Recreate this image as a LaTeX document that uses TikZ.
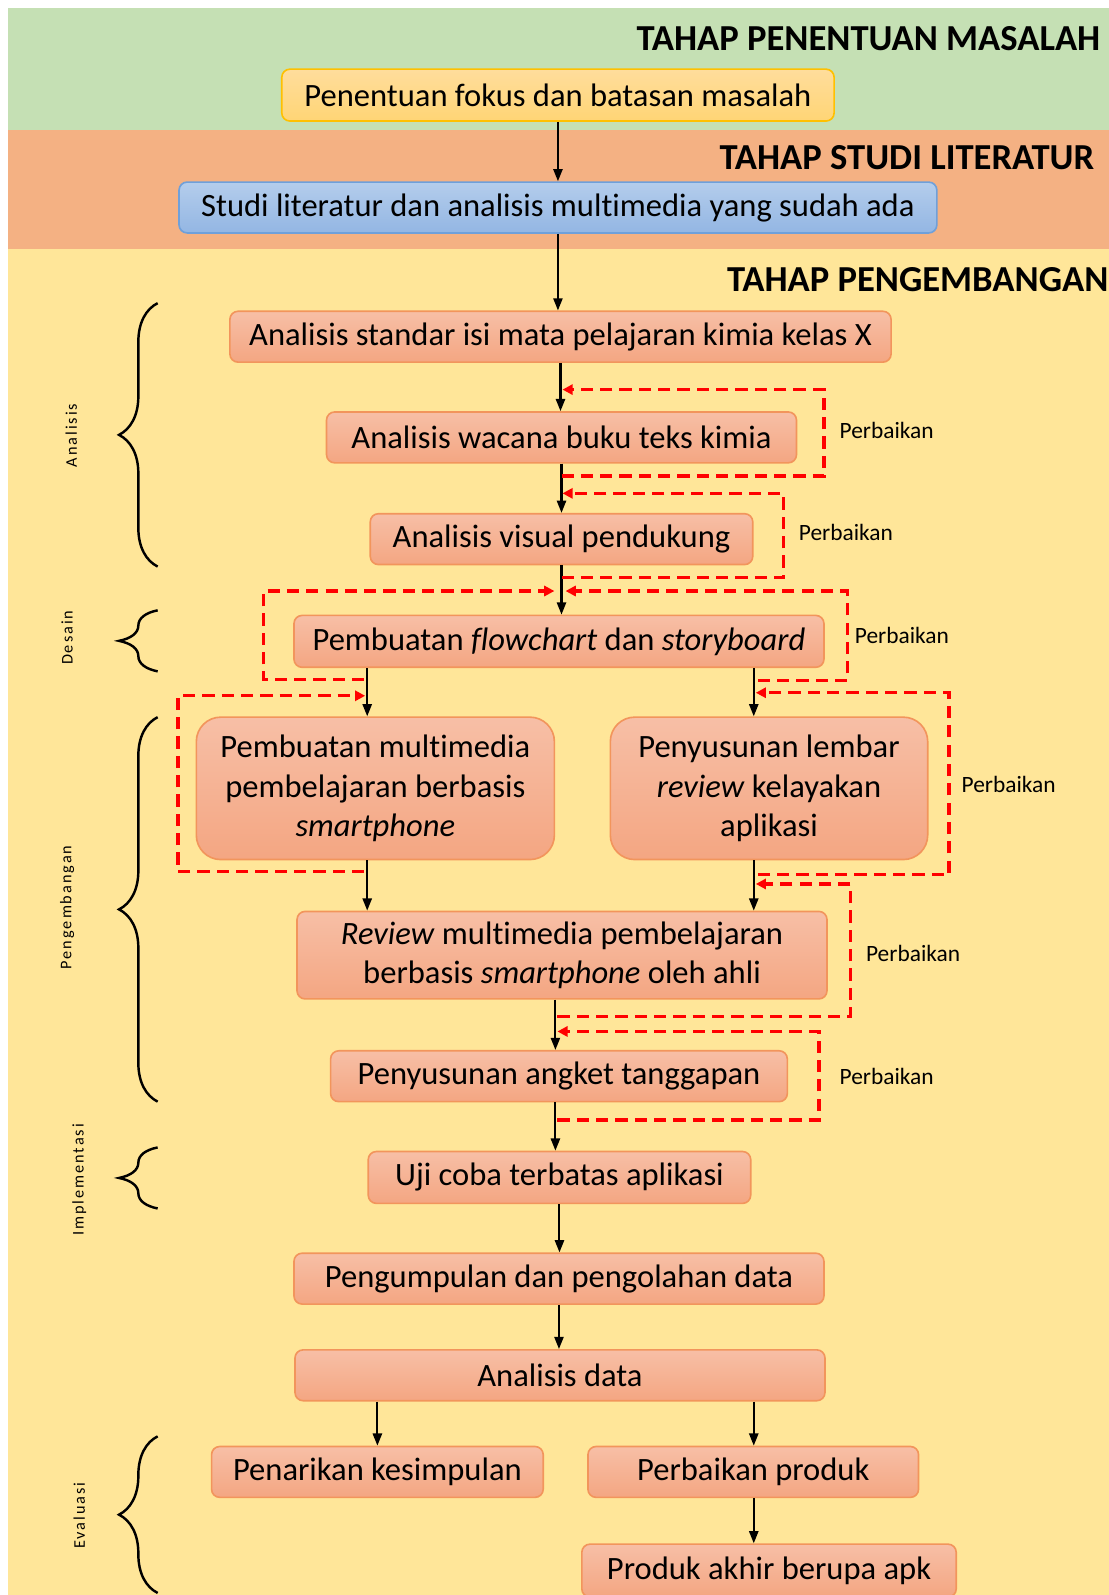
\documentclass[tikz,border=0pt]{standalone}
\usepackage{fontspec}
\setmainfont{Carlito}[Ligatures=CommonOff]
\usetikzlibrary{arrows.meta,decorations.pathreplacing}

\definecolor{bandgreen}{HTML}{C5E0B4}
\definecolor{bandorange}{HTML}{F4B183}
\definecolor{bandyellow}{HTML}{FFE699}
\definecolor{boxtop}{HTML}{F7BFA6}
\definecolor{boxbot}{HTML}{F4A682}
\definecolor{boxline}{HTML}{F2955C}
\definecolor{yeltop}{HTML}{FFDD9C}
\definecolor{yelbot}{HTML}{FFD575}
\definecolor{yelline}{HTML}{FFC000}
\definecolor{bluetop}{HTML}{B4CDEC}
\definecolor{bluebot}{HTML}{93B6E3}
\definecolor{blueline}{HTML}{6FA0DA}
\definecolor{fixred}{HTML}{FF0000}

\tikzset{
  stage/.style={draw=boxline, line width=0.8pt, rounded corners=4pt, top color=boxtop, bottom color=boxbot,
    align=center, inner sep=0pt, font=\fontsize{16}{19.5}\selectfont},
  bigstage/.style={stage, rounded corners=12pt},
  phase/.style={anchor=east, inner sep=0pt, font=\fontsize{18}{20}\selectfont\bfseries},
  flow/.style={line width=1pt, -{Triangle[length=6pt,width=4.5pt]}},
  fix/.style={draw=fixred, line width=1.6pt, dash pattern=on 6pt off 3.5pt, -{Triangle[length=5pt,width=5pt]}},
  fixlabel/.style={anchor=west, inner sep=0pt, font=\fontsize{11.5}{13}\selectfont},
  grp/.style={decorate, decoration={brace, amplitude=19pt}, line width=1.2pt},
  grplabel/.style={rotate=90, inner sep=0pt, font=\fontsize{8}{10}\selectfont\addfontfeature{LetterSpace=12}},
}

\begin{document}
\begin{tikzpicture}[x=0.5pt,y=-0.5pt]
  \useasboundingbox (0,0) rectangle (1090,1568);
  % bands
  \fill[bandgreen] (8,8) rectangle (1090,128);
  \fill[bandorange] (8,128) rectangle (1090,245);
  \fill[bandyellow] (8,245) rectangle (1090,1568);

  \node[phase] (tMasalah) at (1082,38) {TAHAP PENENTUAN MASALAH};
  \node[phase] (tStudi) at (1076,155) {TAHAP STUDI LITERATUR};
  \node[phase] (tKembang) at (1090,275) {TAHAP PENGEMBANGAN};

  % stages
  \node[stage, draw=yelline, top color=yeltop, bottom color=yelbot, minimum width=271.5pt, minimum height=25.5pt] (pen) at (548.5,93.5) {Penentuan fokus dan batasan masalah};
  \node[stage, draw=blueline, top color=bluetop, bottom color=bluebot, minimum width=372.5pt, minimum height=25pt] (stu) at (548.5,204) {Studi literatur dan analisis multimedia yang sudah ada};
  \node[stage, minimum width=325pt, minimum height=25pt] (std) at (551,331) {Analisis standar isi mata pelajaran kimia kelas X};
  \node[stage, minimum width=231pt, minimum height=25pt] (wac) at (552,430) {Analisis wacana buku teks kimia};
  \node[stage, minimum width=188pt, minimum height=25pt] (vis) at (552,530) {Analisis visual pendukung};
  \node[stage, minimum width=260.5pt, minimum height=25.5pt] (flc) at (549.5,630.5) {Pembuatan \textit{flowchart} dan \textit{storyboard}};
  \node[bigstage, minimum width=176pt, minimum height=70pt] (mm) at (369,775) {Pembuatan multimedia\\pembelajaran berbasis\\\textit{smartphone}};
  \node[bigstage, minimum width=156pt, minimum height=70pt] (lem) at (756,775) {Penyusunan lembar\\\textit{review} kelayakan\\aplikasi};
  \node[stage, minimum width=260.5pt, minimum height=43pt] (rev) at (552.5,939) {\textit{Review} multimedia pembelajaran\\berbasis \textit{smartphone} oleh ahli};
  \node[stage, minimum width=224.5pt, minimum height=25pt] (ang) at (549.5,1058) {Penyusunan angket tanggapan};
  \node[stage, minimum width=188pt, minimum height=25.5pt] (uji) at (550,1157.5) {Uji coba terbatas aplikasi};
  \node[stage, minimum width=260.5pt, minimum height=25pt] (kum) at (549.5,1257) {Pengumpulan dan pengolahan data};
  \node[stage, minimum width=260.5pt, minimum height=25pt] (ana) at (550.5,1352) {Analisis data};
  \node[stage, minimum width=163pt, minimum height=25pt] (tar) at (371,1447) {Penarikan kesimpulan};
  \node[stage, minimum width=162.5pt, minimum height=25pt] (prb) at (740.5,1447) {Perbaikan produk};
  \node[stage, minimum width=184pt, minimum height=26pt] (apk) at (756,1544) {Produk akhir berupa apk};

  % flow
  \coordinate (colL) at (361,700);
  \coordinate (colR) at (741,700);
  \coordinate (colM) at (546,1000);
  \draw[flow] (pen.south) -- (pen.south |- stu.north);
  \draw[flow] (stu.south) -- (stu.south |- std.north);
  \draw[flow] (std.south) -- (std.south |- wac.north);
  \draw[flow] (wac.south) -- (wac.south |- vis.north);
  \draw[flow] (vis.south) -- (vis.south |- flc.north);
  \draw[flow] (flc.south -| colL) -- (mm.north -| colL);
  \draw[flow] (flc.south -| colR) -- (lem.north -| colR);
  \draw[flow] (mm.south -| colL) -- (rev.north -| colL);
  \draw[flow] (lem.south -| colR) -- (rev.north -| colR);
  \draw[flow] (rev.south -| colM) -- (ang.north -| colM);
  \draw[flow] (ang.south -| colM) -- (uji.north -| colM);
  \draw[flow] (uji.south) -- (uji.south |- kum.north);
  \draw[flow] (kum.south) -- (kum.south |- ana.north);
  \draw[flow] (ana.south -| tar.north) -- (tar.north);
  \draw[flow] (ana.south -| colR) -- (prb.north -| colR);
  \draw[flow] (prb.south -| colR) -- (apk.north -| colR);

  % perbaikan loops
  \draw[fix] (wac.south |- 0,468) -| (810,383) -- (553,383);
  \draw[fix] (vis.south |- 0,568) -| (770,485) -- (553,485);
  \draw[fix] (745,669) -| (833,581) -- (556,581);
  \draw[fix] (358,668) -| (259,581) -- (545,581);
  \draw[fix] (358,857) -| (175,684) -- (359,684);
  \draw[fix] (745,860) -| (933,681) -- (743,681);
  \draw[fix] (548,999) -| (836,869) -- (743,869);
  \draw[fix] (548,1101) -| (805,1014) -- (548,1014);
  \node[fixlabel] (fxWacana) at (825,423) {Perbaikan};
  \node[fixlabel] (fxVisual) at (785,523) {Perbaikan};
  \node[fixlabel] (fxFlow) at (840,625) {Perbaikan};
  \node[fixlabel] (fxLembar) at (945,771) {Perbaikan};
  \node[fixlabel] (fxReview) at (851,937) {Perbaikan};
  \node[fixlabel] (fxAngket) at (825,1058) {Perbaikan};

  % groups
  \draw[grp] (155,557) -- (155,298);
  \draw[grp] (155,660) -- (155,600);
  \draw[grp] (155,1083) -- (155,705);
  \draw[grp] (155,1188) -- (155,1128);
  \draw[grp] (155,1566) -- (155,1412);
  \node[grplabel] (gAnalisis) at (70,428) {Analisis};
  \node[grplabel] (gDesain) at (66,627) {Desain};
  \node[grplabel] (gKembang) at (66,892) {Pengembangan};
  \node[grplabel] (gImpl) at (78,1160) {Implementasi};
  \node[grplabel] (gEval) at (78,1490) {Evaluasi};
\end{tikzpicture}
\end{document}
